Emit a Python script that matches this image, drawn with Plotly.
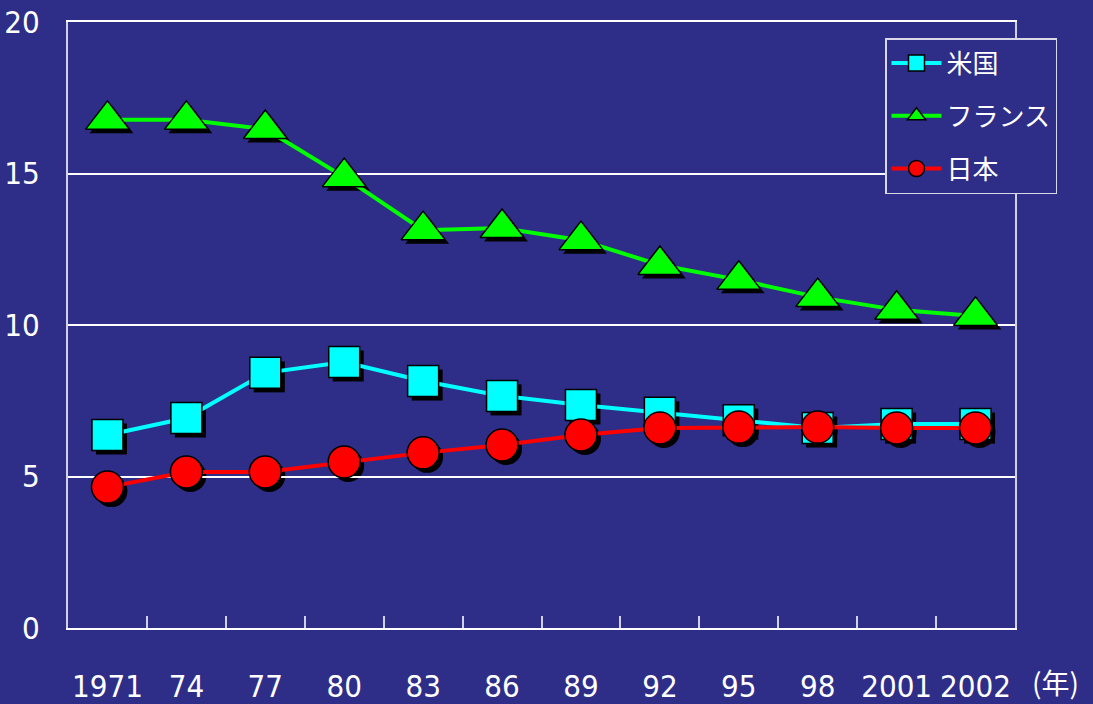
import plotly.graph_objects as go

years = ["1971", "74", "77", "80", "83", "86", "89", "92", "95", "98", "2001", "2002"]
usa = [6.37, 6.93, 8.42, 8.78, 8.15, 7.66, 7.36, 7.10, 6.86, 6.60, 6.73, 6.73]
france = [16.77, 16.77, 16.47, 14.88, 13.13, 13.20, 12.80, 11.98, 11.49, 10.92, 10.50, 10.30]
japan = [4.65, 5.15, 5.15, 5.48, 5.78, 6.04, 6.37, 6.60, 6.63, 6.63, 6.60, 6.60]

names = ["米国", "フランス", "日本"]
colors = ["#00FFFF", "#00FF00", "#FF0000"]
symbols = ["square", "triangle-up", "circle"]
sizes = [31, 38, 32]
series = [usa, france, japan]

BG = "#2E2E89"
L, R, T, B = 68, 74, 22, 72
W, H = 1093 - L - R, 704 - T - B
dx, dy = 4 / W, 4 / H

fig = go.Figure()

# shadows (on subplot xy, drawn first)
for vals, sym, sz in zip(series, symbols, sizes):
    fig.add_trace(go.Scatter(
        x=years, y=vals, mode="markers", xaxis="x", yaxis="y",
        marker=dict(symbol=sym, size=sz, color="black", line=dict(width=0)),
        showlegend=False, hoverinfo="skip"))

# main series
for name, vals, col, sym, sz in zip(names, series, colors, symbols, sizes):
    fig.add_trace(go.Scatter(
        x=years, y=vals, name=name, legendgroup=name, mode="lines+markers",
        xaxis="x2", yaxis="y2",
        line=dict(color=col, width=4),
        marker=dict(symbol=sym, size=sz, color=col, line=dict(color="black", width=1.5))))

tickfont = dict(family="Liberation Sans Narrow, DejaVu Sans Condensed, sans-serif",
                size=31, color="white")

fig.update_layout(
    width=1093, height=704,
    margin=dict(l=L, r=R, t=T, b=B, autoexpand=False),
    paper_bgcolor=BG, plot_bgcolor="rgba(0,0,0,0)",
    showlegend=True,
    xaxis=dict(type="category", categoryorder="array", categoryarray=years,
               range=[-0.5, 11.5], domain=[dx, 1], anchor="y",
               visible=False, showgrid=False, automargin=False),
    yaxis=dict(range=[0, 20], domain=[0, 1 - dy], anchor="x",
               visible=False, showgrid=False, automargin=False),
    xaxis2=dict(type="category", categoryorder="array", categoryarray=years,
                range=[-0.5, 11.5], domain=[0, 1 - dx], anchor="y2",
                showgrid=False, showline=True, linecolor="white", linewidth=2,
                mirror=True, ticks="inside", tickson="boundaries", ticklen=12,
                tickcolor="#D0D0E8", tickwidth=1.5, tickangle=0, automargin=False,
                tickfont=tickfont, ticklabelstandoff=30),
    yaxis2=dict(range=[0, 20], domain=[dy, 1], anchor="x2",
                tickvals=[0, 5, 10, 15, 20], showgrid=True, gridcolor="white",
                gridwidth=1.5, zeroline=False, showline=True, linecolor="#D0D0E8",
                linewidth=2, mirror=True, ticks="", tickfont=tickfont,
                ticklabelstandoff=20, automargin=False),
    legend=dict(x=(885 - L) / W, y=(704 - B - 38) / H, xanchor="left", yanchor="top",
                bgcolor=BG, bordercolor="#D8D8E8", borderwidth=1.5,
                font=dict(family="Noto Sans CJK JP", size=26, color="white"),
                itemwidth=50, tracegroupgap=16),
    annotations=[dict(text="(年)", x=(1030 - L) / W, xref="paper", xanchor="left",
                      y=(704 - B - 660) / H, yref="paper", yanchor="top", showarrow=False,
                      font=dict(family="Noto Sans CJK JP", size=28, color="white"))],
)

fig.write_html("out.html", config={"displayModeBar": False},
               post_script="document.body.style.margin='0';")
